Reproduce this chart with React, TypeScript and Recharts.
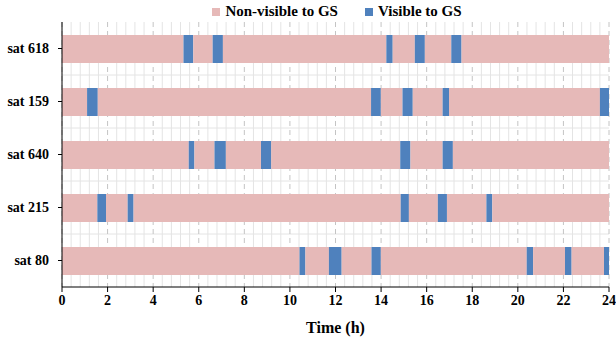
import React from 'react';
import { BarChart, Bar, XAxis, YAxis, CartesianGrid, Cell } from 'recharts';

const SATS = ['sat 618', 'sat 159', 'sat 640', 'sat 215', 'sat 80'];

// visibility windows [start, end] in hours, one list per satellite
const SAT_618 = [[5.33, 5.76], [6.61, 7.06], [14.23, 14.51], [15.48, 15.92], [17.08, 17.53]];
const SAT_159 = [[1.1, 1.57], [13.56, 13.99], [14.94, 15.39], [16.7, 16.98], [23.6, 24]];
const SAT_640 = [[5.56, 5.81], [6.69, 7.19], [8.73, 9.18], [14.84, 15.29], [16.7, 17.15]];
const SAT_215 = [[1.55, 1.93], [2.88, 3.14], [14.86, 15.22], [16.49, 16.89], [18.62, 18.88]];
const SAT_80 = [[10.42, 10.68], [11.71, 12.27], [13.58, 13.99], [20.39, 20.67], [22.07, 22.36], [23.78, 24]];

const WINDOWS = [SAT_618, SAT_159, SAT_640, SAT_215, SAT_80];

const MAJOR_TICKS = [0, 2, 4, 6, 8, 10, 12, 14, 16, 18, 20, 22, 24];
const MINOR_TICKS = Array.from({ length: 61 }, (_, i) => Math.round(i * 4) / 10);
const MINOR_ONLY = MINOR_TICKS.filter((t) => Math.abs(t / 2 - Math.round(t / 2)) > 1e-6);

const PINK = '#E6B9B8';
const BLUE = '#4F81BD';
const FONT = '"Liberation Serif", "Times New Roman", serif';
const DAY = 24;

// stacked segments: even = non-visible, odd = visible
const MAX_SEGS = Math.max(...WINDOWS.map((w) => w.length)) * 2 + 1;
const data = SATS.map((name, i) => {
  const row: Record<string, number | string> = { name };
  let prev = 0;
  let k = 0;
  WINDOWS[i].forEach(([a, b]) => {
    row[`seg${k++}`] = a - prev;
    row[`seg${k++}`] = b - a;
    prev = b;
  });
  row[`seg${k++}`] = DAY - prev;
  while (k < MAX_SEGS) row[`seg${k++}`] = 0;
  return row;
});
const SEG_KEYS = Array.from({ length: MAX_SEGS }, (_, i) => `seg${i}`);

const tickStyle = { fontFamily: FONT, fontWeight: 'bold', fontSize: 14, fill: '#000' };

const LegendBox = () => (
  <div
    style={{
      position: 'absolute', top: 3, left: 0, width: 616, display: 'flex', justifyContent: 'center',
      paddingLeft: 58, boxSizing: 'border-box', fontFamily: FONT, fontWeight: 'bold', fontSize: 15, color: '#000',
    }}
  >
    <span style={{ display: 'flex', alignItems: 'center' }}>
      <span style={{ width: 8, height: 8, background: PINK, marginRight: 5 }} />
      Non-visible to GS
    </span>
    <span style={{ display: 'flex', alignItems: 'center', marginLeft: 27 }}>
      <span style={{ width: 8, height: 8, background: BLUE, marginRight: 5 }} />
      Visible to GS
    </span>
  </div>
);

export default function App() {
  return (
    <div style={{ position: 'absolute', left: 0, top: 0, width: 616, height: 344, background: '#fff' }}>
      <LegendBox />
      <BarChart
        width={616}
        height={344}
        data={data}
        layout="vertical"
        margin={{ top: 22, right: 7, left: 6, bottom: 2 }}
      >
        <CartesianGrid
          xAxisId="major"
          stroke="#e4e4e4"
          verticalCoordinatesGenerator={({ offset }: any) =>
            MINOR_ONLY.map((h) => offset.left + (h / DAY) * offset.width)
          }
          horizontalCoordinatesGenerator={({ offset }: any) =>
            [1, 2, 3, 4].map((k) => offset.top + (k * offset.height) / SATS.length)
          }
        />
        <CartesianGrid xAxisId="major" horizontal={false} stroke="#c4c4c4" strokeDasharray="5 4" />
        <XAxis
          xAxisId="major"
          type="number"
          domain={[0, DAY]}
          ticks={MAJOR_TICKS}
          interval={0}
          tickSize={5}
          tickMargin={3}
          stroke="#000"
          tick={tickStyle}
          height={55}
          label={{ value: 'Time (h)', position: 'insideBottom', offset: 9, style: { ...tickStyle, fontSize: 16 } }}
        />
        <XAxis
          xAxisId="minor"
          type="number"
          domain={[0, DAY]}
          ticks={MINOR_TICKS}
          interval={0}
          mirror
          tickSize={4}
          stroke="#000"
          axisLine={false}
          tickFormatter={() => ''}
        />
        <YAxis
          type="category"
          dataKey="name"
          width={56}
          tickSize={4}
          tickMargin={9}
          stroke="#000"
          tick={tickStyle}
        />
        {SEG_KEYS.map((key, i) => (
          <Bar
            key={key}
            dataKey={key}
            xAxisId="major"
            stackId="a"
            barSize={28}
            fill={i % 2 === 0 ? PINK : BLUE}
            isAnimationActive={false}
          >
            {data.map((_, j) => (
              <Cell key={`c-${j}`} fill={i % 2 === 0 ? PINK : BLUE} />
            ))}
          </Bar>
        ))}
      </BarChart>
    </div>
  );
}
